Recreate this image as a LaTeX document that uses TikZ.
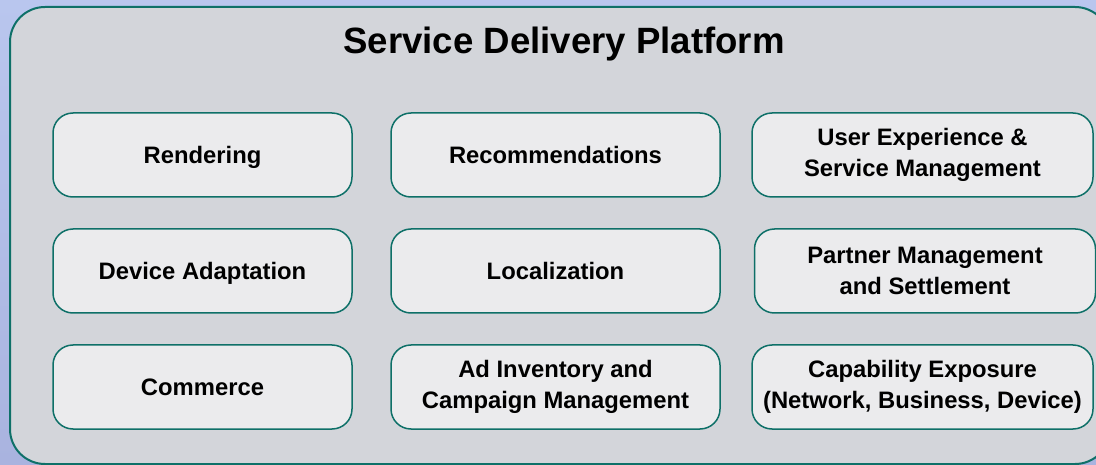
\documentclass[tikz,border=0pt]{standalone}
\usepackage{fontspec}
\setmainfont{Liberation Sans}
\usepackage{tikz}
\usetikzlibrary{positioning, backgrounds}
\usepackage{xcolor}
\definecolor{sdpteal}{HTML}{0E7068}
\definecolor{sdpgray}{HTML}{D3D5DA}
\definecolor{boxgray}{HTML}{EBEBED}
\definecolor{bgblue}{HTML}{B9C6EE}
\definecolor{bgblue2}{HTML}{A9B3DF}

\begin{document}
\begin{tikzpicture}[
			x=1pt, y=1pt,
			node distance=32pt,
			platform_node/.style={
				rectangle,
				rounded corners=35pt,
				draw=sdpteal,
				line width=2pt,
				fill=sdpgray,
				inner sep=0pt,
				outer sep=0pt
			},
			service_node/.style={
				rectangle,
				rounded corners=20pt,
				draw=sdpteal,
				line width=1.5pt,
				fill=boxgray,
				align=center,
				minimum height=84pt,
				inner sep=0pt,
				outer sep=0pt,
				font=\bfseries\fontsize{23.8}{31.5}\selectfont
			},
			one_line/.style={
				text height=17pt,
				text depth=0pt
			},
			title/.style={
				font=\bfseries\fontsize{36.6}{42}\selectfont,
				anchor=base
			}
			]
			
			% Background
			
			\useasboundingbox (0,0) rectangle (1096,-465);
			\shade[top color=bgblue, bottom color=bgblue2] (0,0) rectangle (1096,-465);
			
			% Platform
			
			\node [platform_node, minimum width=1100pt, minimum height=457pt] (sdp) at (560,-235.5) {};
			\node [title] (T0) at (564,-54) {Service Delivery Platform};
			
			% Services
			
			\node [service_node, one_line, minimum width=299pt] (rendering) at (202.5,-155) {Rendering};
			\node [service_node, one_line, minimum width=329pt, right=39pt of rendering] (recommend) {Recommendations};
			\node [service_node, minimum width=341pt, right=of recommend] (userexp) {User Experience \&\\Service Management};
			
			\node [service_node, one_line, minimum width=299pt, below=of rendering] (device) {Device Adaptation};
			\node [service_node, one_line, minimum width=329pt, below=of recommend] (local) {Localization};
			\node [service_node, minimum width=341pt, below=of userexp, xshift=2.5pt] (partner) {Partner Management\\and Settlement};
			
			\node [service_node, one_line, minimum width=299pt, below=of device] (commerce) {Commerce};
			\node [service_node, minimum width=329pt, below=of local] (adinv) {Ad Inventory and\\Campaign Management};
			\node [service_node, minimum width=341pt, below=of partner, xshift=-2.5pt] (capexp) {Capability Exposure\\(Network, Business, Device)};
			
		\end{tikzpicture}
\end{document}
